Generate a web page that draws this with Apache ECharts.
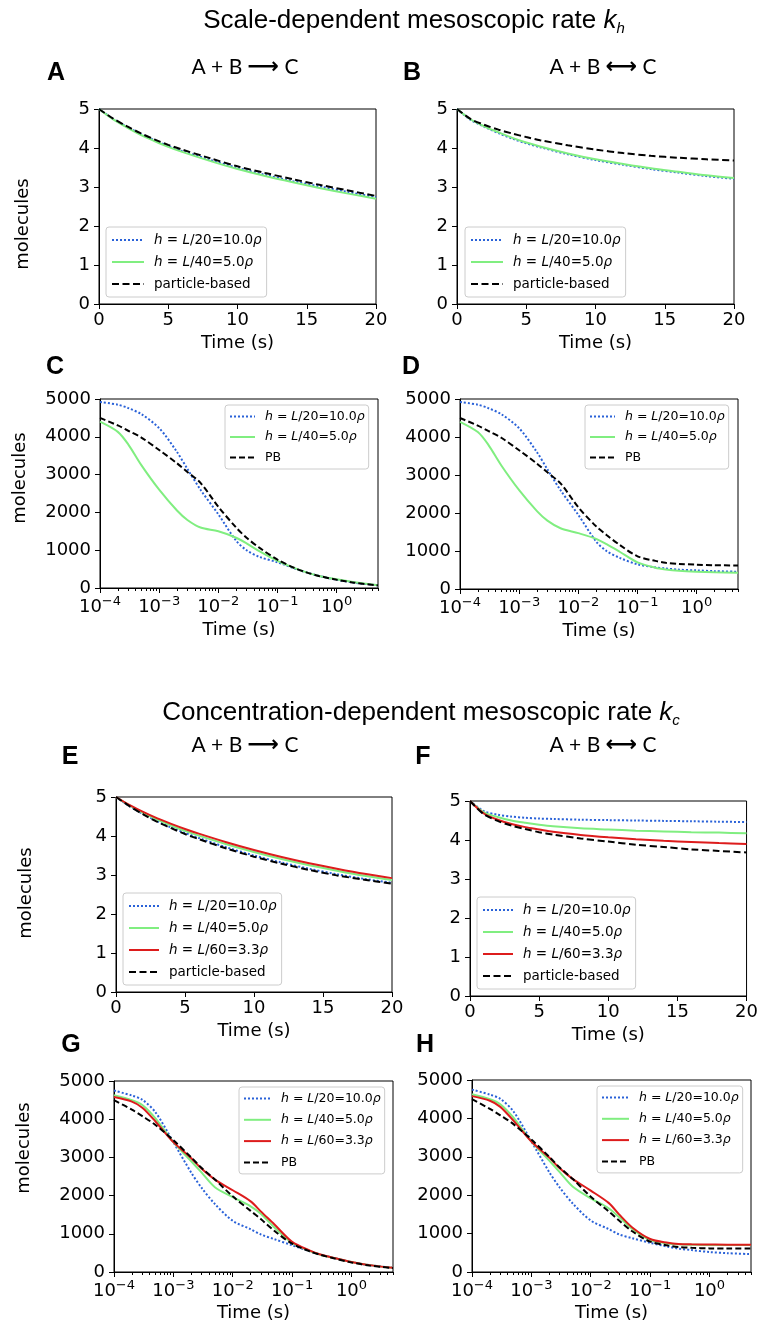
<!DOCTYPE html>
<html><head><meta charset="utf-8">
<script src="https://cdn.jsdelivr.net/npm/echarts@6/dist/echarts.min.js"></script>
<style>html,body{margin:0;padding:0;background:#fff}#c{width:761px;height:1326px}</style>
</head><body><div id="c"></div><script>
// ---------- data ----------
const tLin = [0,1,2,3,4,5,6,8,10,12,14,16,18,20];
const tLog = [1e-4,2e-4,3e-4,5e-4,1e-3,2e-3,3e-3,5e-3,1e-2,2e-2,3e-2,5e-2,0.1,0.2,0.3,0.5,1,2,5];

const linXTicks = [0,5,10,15,20];
const linYTicks = [0,1,2,3,4,5];
const logXTicks = [1e-4,1e-3,1e-2,1e-1,1];
const molYTicks = [0,1000,2000,3000,4000,5000];

// A: A+B -> C, scale-dependent
const A_h20 = [5.00,4.75,4.55,4.36,4.20,4.05,3.92,3.70,3.49,3.31,3.15,3.01,2.87,2.74];
const A_h40 = [5.00,4.74,4.53,4.34,4.18,4.03,3.90,3.67,3.46,3.28,3.12,2.97,2.83,2.70];
const A_pb  = [5.00,4.76,4.56,4.38,4.22,4.08,3.96,3.74,3.53,3.36,3.20,3.05,2.91,2.77];
// B: A+B <-> C, scale-dependent
const B_h20 = [5.00,4.72,4.54,4.38,4.24,4.12,4.02,3.84,3.69,3.57,3.46,3.37,3.28,3.21];
const B_h40 = [5.00,4.73,4.55,4.40,4.26,4.14,4.04,3.86,3.71,3.59,3.48,3.39,3.30,3.23];
const B_pb  = [5.00,4.74,4.59,4.47,4.37,4.28,4.20,4.07,3.96,3.87,3.80,3.75,3.71,3.68];
// C
const C_h20 = [4920,4850,4760,4600,4230,3600,3150,2600,1950,1250,1000,820,680,510,420,320,220,140,70];
const C_h40 = [4400,4130,3800,3250,2600,2050,1800,1600,1500,1330,1180,970,720,520,420,320,230,150,70];
const C_pb  = [4500,4300,4160,3980,3650,3300,3070,2780,2150,1600,1330,1060,750,520,420,320,220,140,70];
// D
const D_h20 = [4920,4850,4760,4600,4230,3600,3150,2600,1950,1250,1000,820,650,570,540,510,490,470,455];
const D_h40 = [4400,4130,3800,3250,2600,2050,1800,1600,1470,1320,1180,980,700,560,515,480,455,440,430];
const D_pb  = [4500,4300,4160,3980,3650,3300,3070,2780,2150,1650,1420,1160,860,740,690,660,640,625,620];
// E: concentration-dependent
const E_h20 = [5.00,4.76,4.56,4.38,4.22,4.08,3.95,3.71,3.50,3.32,3.16,3.02,2.90,2.80];
const E_h40 = [5.00,4.78,4.59,4.42,4.27,4.13,4.01,3.79,3.59,3.41,3.25,3.11,2.98,2.87];
const E_h60 = [5.00,4.79,4.61,4.45,4.31,4.18,4.06,3.84,3.64,3.46,3.30,3.16,3.03,2.92];
const E_pb  = [5.00,4.76,4.55,4.36,4.20,4.05,3.92,3.68,3.47,3.29,3.13,2.99,2.88,2.78];
// F
const F_h20 = [5.00,4.74,4.65,4.60,4.57,4.55,4.54,4.52,4.51,4.50,4.49,4.48,4.47,4.46];
const F_h40 = [5.00,4.71,4.59,4.50,4.44,4.39,4.35,4.30,4.27,4.24,4.22,4.20,4.19,4.17];
const F_h60 = [5.00,4.68,4.52,4.41,4.33,4.27,4.21,4.13,4.07,4.02,3.98,3.95,3.92,3.90];
const F_pb  = [5.00,4.66,4.49,4.37,4.28,4.20,4.14,4.04,3.96,3.88,3.82,3.76,3.72,3.68];
// G
const G_h20 = [4750,4620,4510,4180,3400,2600,2200,1780,1340,1120,980,860,700,540,450,370,260,180,110];
const G_h40 = [4630,4500,4370,4020,3400,2900,2600,2220,1960,1720,1520,1170,760,550,450,370,260,180,110];
const G_h60 = [4580,4460,4300,3940,3400,2980,2700,2420,2140,1850,1580,1250,790,560,460,370,260,180,110];
const G_pb  = [4500,4250,4080,3850,3450,3000,2720,2420,1980,1600,1380,1080,740,540,450,360,250,170,105];
// H
const H_h20 = [4750,4620,4510,4180,3400,2600,2200,1780,1340,1120,980,880,760,660,610,570,520,490,465];
const H_h40 = [4630,4500,4370,4020,3400,2900,2600,2220,1920,1660,1430,1120,830,740,720,710,700,700,700];
const H_h60 = [4580,4460,4300,3940,3400,2980,2700,2420,2120,1800,1500,1160,860,760,730,720,715,710,710];
const H_pb  = [4500,4250,4080,3850,3450,3000,2720,2420,1960,1580,1340,1060,790,690,650,630,615,610,610];

// ---------- styles ----------
const NAME = {h20:'h = L/20=10.0ρ', h40:'h = L/40=5.0ρ', h60:'h = L/60=3.3ρ', pb:'particle-based', PB:'PB'};
const RICHNAME = {};
RICHNAME[NAME.h20] = '{i|h} = {i|L}/20=10.0{i|ρ}';
RICHNAME[NAME.h40] = '{i|h} = {i|L}/40=5.0{i|ρ}';
RICHNAME[NAME.h60] = '{i|h} = {i|L}/60=3.3{i|ρ}';
RICHNAME[NAME.pb] = 'particle-based';
RICHNAME[NAME.PB] = 'PB';
const COLOR = {h20:'#2a62d8', h40:'#80ee80', h60:'#dd1c1c', pb:'#000000', PB:'#000000'};
const DASH = {h20:[2,2], h40:'solid', h60:'solid', pb:[7,3.5], PB:[6,3]};

const TICKFONT = 'DejaVu Sans';
const panels = [
  {grid:{left:99,top:109,width:277,height:195}, log:false, ser:{h20:A_h20,h40:A_h40,pb:A_pb}, leg:{left:106,top:227,iw:32,fs:13.5,lh:16,gap:6,pad:5}, nameGap:30},
  {grid:{left:457,top:109,width:277,height:195}, log:false, ser:{h20:B_h20,h40:B_h40,pb:B_pb}, leg:{left:465,top:227,iw:32,fs:13.5,lh:16,gap:6,pad:5}, nameGap:30},
  {grid:{left:100,top:399,width:278,height:189}, log:true, ser:{h20:C_h20,h40:C_h40,PB:C_pb}, leg:{left:225,top:405,iw:25,fs:12.5,lh:15,gap:5.5,pad:4}, nameGap:33},
  {grid:{left:460,top:399,width:278,height:190}, log:true, ser:{h20:D_h20,h40:D_h40,PB:D_pb}, leg:{left:585,top:405,iw:25,fs:12.5,lh:15,gap:5.5,pad:4}, nameGap:33},
  {grid:{left:116,top:797,width:276,height:195}, log:false, ser:{h20:E_h20,h40:E_h40,h60:E_h60,pb:E_pb}, leg:{left:123,top:893,iw:30,fs:13.5,lh:16,gap:6,pad:5}, nameGap:30},
  {grid:{left:470,top:801,width:278,height:195}, log:false, ser:{h20:F_h20,h40:F_h40,h60:F_h60,pb:F_pb}, leg:{left:477,top:897,iw:30,fs:13.5,lh:16,gap:6,pad:5}, nameGap:30},
  {grid:{left:114,top:1081,width:279,height:191}, log:true, ser:{h20:G_h20,h40:G_h40,h60:G_h60,PB:G_pb}, leg:{left:239,top:1087,iw:27,fs:12.5,lh:15,gap:6.3,pad:4}, nameGap:30},
  {grid:{left:472,top:1080,width:279,height:192}, log:true, ser:{h20:H_h20,h40:H_h40,h60:H_h60,PB:H_pb}, leg:{left:597,top:1086,iw:27,fs:12.5,lh:15,gap:6.3,pad:4}, nameGap:30}
];

// tick positions on the log axes, expressed in log10 units for helper tick axes
const LOGMIN = -4, LOGMAX = Math.log10(5);
const majorLogPos = logXTicks.map(v => Math.log10(v));
const minorLogPos = [];
for (let d = -4; d <= 0; d++) for (let m = 2; m <= 9; m++) { const l = d + Math.log10(m); if (l <= LOGMAX + 1e-9) minorLogPos.push(l); }

function supExp(v){ const e = Math.round(Math.log10(v)); return '10{sup|' + (e < 0 ? '\u2212' + (-e) : e) + '}'; }

const grid = [], xAxis = [], yAxis = [], series = [], legend = [];
panels.forEach((p, gi) => {
  grid.push(Object.assign({show:true, borderColor:'#000', borderWidth:1, backgroundColor:'transparent'}, p.grid));
  const xi = xAxis.length;
  const baseX = {
    gridIndex: gi, position:'bottom',
    axisLine:{show:true, onZero:false, lineStyle:{color:'#000', width:1}},
    splitLine:{show:false},
    name:'Time (s)', nameLocation:'middle', nameGap:p.nameGap,
    nameTextStyle:{fontFamily:TICKFONT, fontSize:18, color:'#000'}
  };
  if (p.log) {
    xAxis.push(Object.assign(baseX, {
      type:'log', logBase:10, min:1e-4, max:5,
      axisTick:{show:false},
      axisLabel:{show:true, customValues:logXTicks, formatter:supExp, fontFamily:TICKFONT, fontSize:18, color:'#000', margin:7, lineHeight:24,
        rich:{sup:{fontFamily:TICKFONT, fontSize:13, color:'#000', verticalAlign:'top', lineHeight:12}}}
    }));
    [[majorLogPos, 5], [minorLogPos, 3]].forEach(([pos, len]) => {
      xAxis.push({gridIndex:gi, type:'value', min:LOGMIN, max:LOGMAX, position:'bottom',
        axisLine:{show:false, onZero:false}, splitLine:{show:false}, axisLabel:{show:false},
        axisTick:{show:true, length:len, lineStyle:{color:'#000', width:1}, customValues:pos}});
    });
  } else {
    xAxis.push(Object.assign(baseX, {
      type:'value', min:linXTicks[0], max:linXTicks[linXTicks.length-1], interval:linXTicks[1]-linXTicks[0],
      axisTick:{show:true, length:5, lineStyle:{color:'#000'}},
      axisLabel:{fontFamily:TICKFONT, fontSize:18, color:'#000', margin:7}
    }));
  }
  const yT = p.log ? molYTicks : linYTicks;
  yAxis.push({gridIndex:gi, type:'value', min:yT[0], max:yT[yT.length-1], interval:yT[1]-yT[0],
    axisLine:{show:true, onZero:false, lineStyle:{color:'#000', width:1}},
    axisTick:{show:true, length:5, lineStyle:{color:'#000'}},
    axisLabel:{fontFamily:TICKFONT, fontSize:18, color:'#000', margin:9, formatter: v => String(v)},
    splitLine:{show:false}});
  const t = p.log ? tLog : tLin;
  const names = [];
  Object.keys(p.ser).forEach(k => {
    const vals = p.ser[k];
    names.push(NAME[k]);
    series.push({type:'line', name:NAME[k], xAxisIndex:xi, yAxisIndex:gi,
      data: vals.map((v, i) => [t[i], v]), symbol:'none', smooth:0.3,
      lineStyle:{color:COLOR[k], width:2, type:DASH[k]}, itemStyle:{color:COLOR[k]},
      clip:true, animation:false});
  });
  const L = p.leg;
  legend.push({data:names, left:L.left, top:L.top, orient:'vertical', selectedMode:false,
    itemWidth:L.iw, itemHeight:10, itemGap:L.gap, padding:L.pad,
    itemStyle:{opacity:0, borderWidth:0},
    borderColor:'#cccccc', borderWidth:1, borderRadius:3, backgroundColor:'rgba(255,255,255,0.85)',
    formatter: n => RICHNAME[n],
    textStyle:{fontFamily:TICKFONT, fontSize:L.fs, lineHeight:L.lh, color:'#000', padding:[0,0,0,5],
      rich:{i:{fontFamily:TICKFONT, fontStyle:'italic', fontSize:L.fs, lineHeight:L.lh, color:'#000'}}}});
});

// ---------- texts ----------
function txt(x, y, text, extra){ return {type:'text', x, y, silent:true, style:Object.assign({text, fill:'#000', align:'center', verticalAlign:'middle'}, extra)}; }
const letterStyle = {fontFamily:'Liberation Sans', fontWeight:'bold', fontSize:25};
const titleRich = {k:{fontFamily:'Liberation Sans', fontStyle:'italic', fontSize:26, lineHeight:30},
                   s:{fontFamily:'Liberation Sans', fontStyle:'italic', fontSize:15, lineHeight:14, verticalAlign:'bottom'}};
const reactRich = {ar:{fontFamily:'DejaVu Sans', fontWeight:'bold', fontSize:22, lineHeight:26}};
const graphic = [
  txt(414, 21, 'Scale-dependent mesoscopic rate {k|k}{s|h}', {fontFamily:'Liberation Sans', fontSize:26, lineHeight:30, rich:titleRich}),
  txt(421, 713, 'Concentration-dependent mesoscopic rate {k|k}{s|c}', {fontFamily:'Liberation Sans', fontSize:26, lineHeight:30, rich:titleRich}),
  txt(245, 67, 'A + B {ar|⟶} C', {fontFamily:'Lato', fontSize:21, lineHeight:26, rich:reactRich}),
  txt(603, 67, 'A + B {ar|⟷} C', {fontFamily:'Lato', fontSize:21, lineHeight:26, rich:reactRich}),
  txt(245, 745, 'A + B {ar|⟶} C', {fontFamily:'Lato', fontSize:21, lineHeight:26, rich:reactRich}),
  txt(603, 745, 'A + B {ar|⟷} C', {fontFamily:'Lato', fontSize:21, lineHeight:26, rich:reactRich}),
  txt(56, 73, 'A', letterStyle), txt(412, 73, 'B', letterStyle),
  txt(55, 367, 'C', letterStyle), txt(411, 367, 'D', letterStyle),
  txt(70, 757, 'E', letterStyle), txt(423, 757, 'F', letterStyle),
  txt(71, 1045, 'G', letterStyle), txt(425, 1045, 'H', letterStyle)
];
[[23,224],[20,478],[26,893],[24,1148]].forEach(([x,y]) => {
  const g = txt(x, y, 'molecules', {fontFamily:TICKFONT, fontSize:18});
  g.rotation = Math.PI / 2;
  graphic.push(g);
});

const chart = echarts.init(document.getElementById('c'), null, {renderer:'canvas'});
chart.setOption({animation:false, backgroundColor:'#fff', grid, xAxis, yAxis, series, legend, graphic});
</script></body></html>
